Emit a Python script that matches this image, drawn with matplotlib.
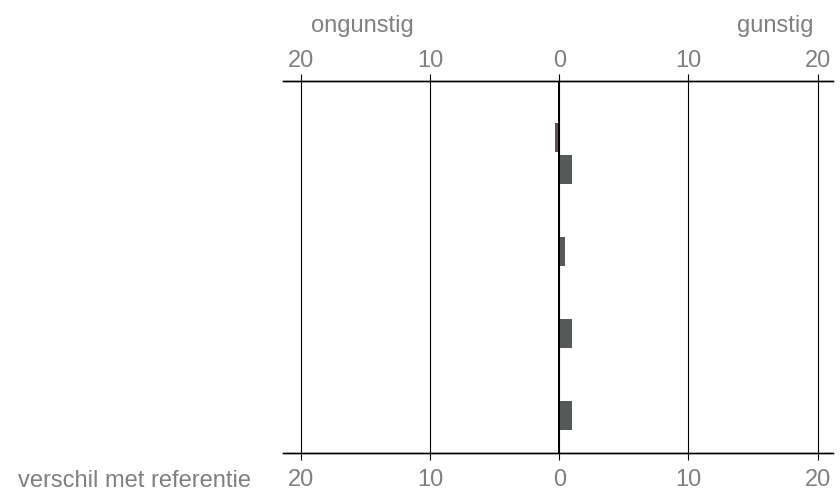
import numpy as np
import matplotlib
matplotlib.use("Agg")
import matplotlib.pyplot as plt

plt.rcParams['font.family'] = ['Liberation Sans', 'DejaVu Sans']

# Gegevens
groepen = [0, 1, 2, 3]
referentie_waarden = [-0.35, 0.0, 0.0, 0.0]   # bovenste staaf (rood)
scenario_waarden = [1.0, 0.45, 1.0, 1.0]       # onderste staaf (grijs)
tick_posities = [-20, -10, 0, 10, 20]
tick_labels = ['20', '10', '0', '10', '20']

fig = plt.figure(figsize=(8.4, 4.93), dpi=100)
ax = fig.add_axes([283 / 840, 40 / 493, 550 / 840, 372 / 493])

y = np.array(groepen, dtype=float)
h = 0.354
off = 0.195
ax.barh(y - off, referentie_waarden, height=h, color='#6b4a50', zorder=2)
ax.barh(y + off, scenario_waarden, height=h, color='#555958', zorder=2)

# rasterlijnen
for t in tick_posities:
    ax.axvline(t, color='black', lw=0.8, zorder=1)
ax.axvline(0, color='black', lw=1.4, zorder=3)

ax.set_xlim(-21.4, 21.2)
ax.set_ylim(3.652, -0.884)
ax.set_yticks([])

ax.set_xticks(tick_posities)
ax.set_xticklabels(tick_labels)
ax.tick_params(axis='x', direction='out', length=5, width=0.8,
               colors='black', labelcolor='#808080', labelsize=17, pad=6.5)

# bovenste as
ax2 = ax.twiny()
ax2.set_xlim(ax.get_xlim())
ax2.set_xticks(tick_posities)
ax2.set_xticklabels(tick_labels)
ax2.tick_params(axis='x', direction='out', length=5, width=0.8,
                colors='black', labelcolor='#808080', labelsize=17, pad=1.5)

for a in (ax, ax2):
    for s in ['left', 'right']:
        a.spines[s].set_visible(False)
    for s in ['top', 'bottom']:
        a.spines[s].set_linewidth(1.0)

fig.text(311 / 840, (493 - 32) / 493, 'ongunstig', ha='left', va='baseline',
         fontsize=17, color='#808080')
fig.text(813 / 840, (493 - 32) / 493, 'gunstig', ha='right', va='baseline',
         fontsize=17, color='#808080')
fig.text(251 / 840, (493 - 487) / 493, 'verschil met referentie', ha='right',
         va='baseline', fontsize=17, color='#808080')

fig.savefig('out.png', dpi=100)
